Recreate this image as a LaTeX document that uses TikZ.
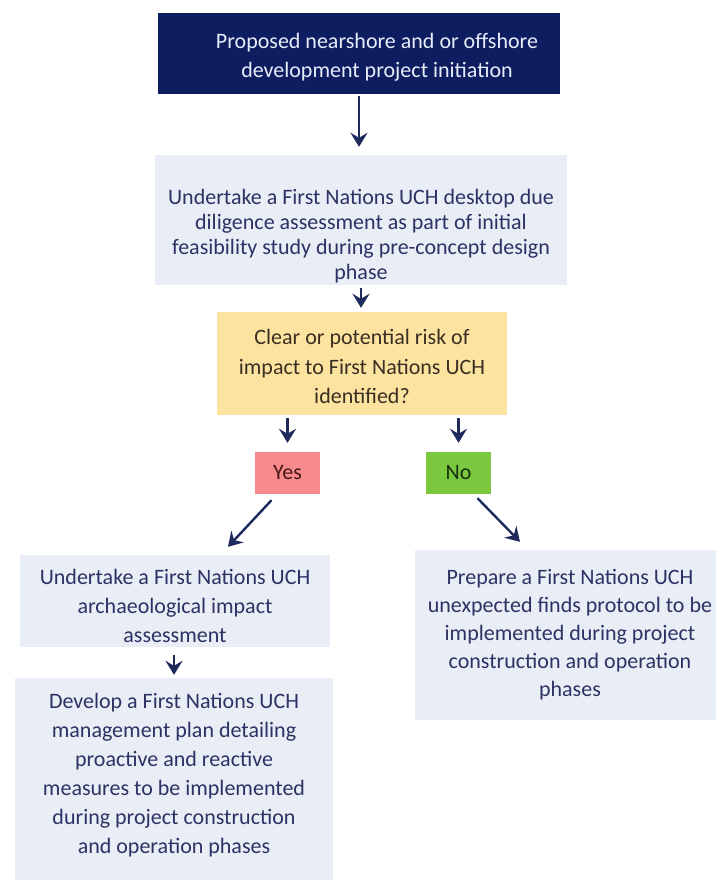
\documentclass[tikz,border=0pt]{standalone}
\usepackage{fontspec}
\setmainfont{Carlito}
\usepackage{xcolor}
\usetikzlibrary{arrows.meta}

\definecolor{navyfill}{RGB}{14,28,96}
\definecolor{paleblue}{RGB}{233,237,246}
\definecolor{inkblue}{RGB}{44,50,100}
\definecolor{risky}{RGB}{252,227,160}
\definecolor{yesred}{RGB}{246,138,140}
\definecolor{nogreen}{RGB}{122,200,62}
\definecolor{arrowblue}{RGB}{30,42,92}

\begin{document}
\begin{tikzpicture}[x=1pt,y=-1pt,
  box/.style={fill=paleblue,text=inkblue,align=center,inner sep=0pt,
    font=\fontsize{22}{29}\selectfont},
  tag/.style={inner sep=0pt,minimum width=65pt,minimum height=42pt,
    font=\fontsize{22}{26}\selectfont},
  arr/.style={draw=arrowblue,line width=2.4pt,
    -{Stealth[length=14pt,width=17pt,inset=5pt]}}]
\useasboundingbox (0,0) rectangle (715,880);
\fill[white] (0,0) rectangle (715,880);

\node[box,fill=navyfill,text={rgb,255:red,232;green,237;blue,250},
  minimum width=402pt,minimum height=81pt] (start) at (359,53.5)
  {\hspace*{36pt}\rule{0pt}{22pt}Proposed nearshore and or offshore\\
   \hspace*{36pt}development project initiation};
\node[box,minimum width=412pt,minimum height=130pt,
  font=\fontsize{22}{25}\selectfont] (desk) at (361,220)
  {\rule{0pt}{48pt}Undertake a First Nations UCH desktop due\\
   diligence assessment as part of initial\\
   feasibility study during pre-concept design\\
   phase};
\node[box,fill=risky,text={rgb,255:red,58;green,46;blue,34},
  minimum width=290pt,minimum height=103pt,
  font=\fontsize{22}{29.5}\selectfont] (risk) at (362,363.5)
  {\rule{0pt}{22pt}Clear or potential risk of\\
   impact to First Nations UCH\\
   identified?};
\node[tag,fill=yesred,text={rgb,255:red,72;green,22;blue,26}] (yes) at (287.5,473) {Yes};
\node[tag,fill=nogreen,text={rgb,255:red,22;green,48;blue,14}] (no) at (458.5,473) {No};
\node[box,minimum width=310pt,minimum height=92pt] (aia) at (175,601)
  {\rule{0pt}{26pt}Undertake a First Nations UCH\\
   archaeological impact\\
   assessment};
\node[box,minimum width=318pt,minimum height=202pt] (plan) at (174,779)
  {Develop a First Nations UCH\\
   management plan detailing\\
   proactive and reactive\\
   measures to be implemented\\
   during project construction\\
   and operation phases\rule[-10.5pt]{0pt}{10.5pt}};
\node[box,minimum width=310pt,minimum height=170pt,
  font=\fontsize{22}{28}\selectfont] (protocol) at (570,635)
  {Prepare a First Nations UCH\\
   unexpected finds protocol to be\\
   implemented during project\\
   construction and operation\\
   phases};

\draw[arr,shorten <=2pt,shorten >=8pt] (start.south) -- (start.south |- desk.north);
\draw[arr,shorten <=3pt,shorten >=4pt] (desk.south) -- (desk.south |- risk.north);
\draw[arr,shorten <=3pt,shorten >=9pt] (risk.south -| yes.north) -- (yes.north);
\draw[arr,shorten <=3pt,shorten >=9pt] (risk.south -| no.north) -- (no.north);
\draw[arr] ([shift={(-16,6)}]yes.south) -- ([shift={(53,-8)}]aia.north);
\draw[arr] ([shift={(19,4)}]no.south) -- ([shift={(-50,-8)}]protocol.north);
\draw[arr,shorten <=8pt,shorten >=3pt] (aia.south -| plan.north) -- (plan.north);
\end{tikzpicture}
\end{document}
